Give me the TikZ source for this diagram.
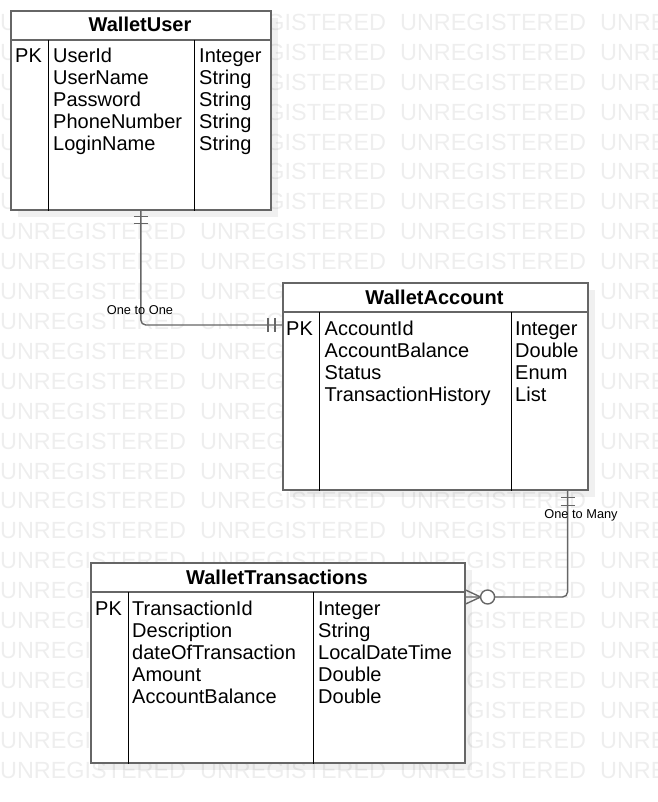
\documentclass[tikz,border=0pt]{standalone}
\usepackage{fontspec}
\setmainfont{Liberation Sans}
\usetikzlibrary{positioning, calc, shadows}

\definecolor{linegray}{RGB}{102,102,102}
\definecolor{markgray}{RGB}{238,238,238}

\tikzset{
  entity/.style={draw=linegray, line width=1.6pt, fill=white, anchor=north west, inner sep=0pt,
    drop shadow={shadow xshift=7pt, shadow yshift=-7pt, fill=black, opacity=0.06}},
  headline/.style={draw=linegray, line width=1.6pt},
  divider/.style={draw=black, line width=0.9pt},
  conn/.style={draw=linegray, line width=1.4pt},
  title/.style={font=\bfseries\fontsize{20}{22}\selectfont, anchor=base, inner sep=0pt},
  field/.style={font=\fontsize{20}{22}\selectfont, anchor=base west, inner sep=0pt},
  rel/.style={font=\fontsize{12.8}{14}\selectfont, anchor=base, inner sep=0pt},
  watermark/.style={font=\fontsize{23.4}{26}\selectfont, text=markgray, anchor=base west, inner sep=0pt},
}

\begin{document}
\begin{tikzpicture}[x=1pt, y=-1pt]
	\useasboundingbox (0,0) rectangle (657,802);
	\clip (0,0) rectangle (657,802);
	
	% background text
	\foreach \r in {0,...,25}
		\foreach \c in {0,...,3}
			\node[watermark] (wm-\r-\c) at (200*\c, 30.5+29.9*\r) {UNREGISTERED};
	
	% entities
	\node[entity, minimum width=260pt, minimum height=199pt] (user) at (10,10) {};
	\node[entity, minimum width=305pt, minimum height=207pt] (account) at (282,282) {};
	\node[entity, minimum width=374pt, minimum height=200pt] (trans) at (90,562) {};
	
	\draw[headline] ([yshift=-30pt]user.north west) -- ([yshift=-30pt]user.north east);
	\draw[divider] ([xshift=38pt,yshift=-30pt]user.north west) -- ([xshift=38pt]user.south west);
	\draw[divider] ([xshift=184pt,yshift=-30pt]user.north west) -- ([xshift=184pt]user.south west);
	
	\draw[headline] ([yshift=-30pt]account.north west) -- ([yshift=-30pt]account.north east);
	\draw[divider] ([xshift=37pt,yshift=-30pt]account.north west) -- ([xshift=37pt]account.south west);
	\draw[divider] ([xshift=229pt,yshift=-30pt]account.north west) -- ([xshift=229pt]account.south west);
	
	\draw[headline] ([yshift=-30pt]trans.north west) -- ([yshift=-30pt]trans.north east);
	\draw[divider] ([xshift=38pt,yshift=-30pt]trans.north west) -- ([xshift=38pt]trans.south west);
	\draw[divider] ([xshift=223pt,yshift=-30pt]trans.north west) -- ([xshift=223pt]trans.south west);
	
	% WalletUser
	\node[title] (user-title) at (140,32) {WalletUser};
	\node[field] (user-pk) at (15,63) {PK};
	\foreach \fname/\ftype [count=\i] in {UserId/Integer, UserName/String, Password/String,
			PhoneNumber/String, LoginName/String} {
		\node[field] (user-n\i) at (53,41+22*\i) {\fname};
		\node[field] (user-t\i) at (199,41+22*\i) {\ftype};
	}
	
	% WalletAccount
	\node[title] (account-title) at (434.5,304) {WalletAccount};
	\node[field] (account-pk) at (286,335) {PK};
	\foreach \fname/\ftype [count=\i] in {AccountId/Integer, AccountBalance/Double, Status/Enum,
			TransactionHistory/List} {
		\node[field] (account-n\i) at (324.5,313+22*\i) {\fname};
		\node[field] (account-t\i) at (515,313+22*\i) {\ftype};
	}
	
	% WalletTransactions
	\node[title] (trans-title) at (277,584) {WalletTransactions};
	\node[field] (trans-pk) at (95,615) {PK};
	\foreach \fname/\ftype [count=\i] in {TransactionId/Integer, Description/String,
			dateOfTransaction/LocalDateTime, Amount/Double, AccountBalance/Double} {
		\node[field] (trans-n\i) at (132,593+22*\i) {\fname};
		\node[field] (trans-t\i) at (318,593+22*\i) {\ftype};
	}
	
	% relations
	\coordinate (acc-in) at ([yshift=-43pt]account.north west);
	\coordinate (acc-out) at ([xshift=-21pt]account.south east);
	\coordinate (tr-in) at ([yshift=-35pt]trans.north east);
	
	\draw[conn, rounded corners=5pt] (user.south) |- (acc-in);
	\draw[conn, rounded corners=5pt] (acc-out) |- (tr-in);
	
	\foreach \d in {6,13}
		\draw[conn] ([shift={(-7,\d)}]user.south) -- +(14,0);
	\foreach \d in {7,14}
		\draw[conn] ([shift={(-\d,-7)}]acc-in) -- +(0,14);
	\foreach \d in {7,15}
		\draw[conn] ([shift={(-7,\d)}]acc-out) -- +(14,0);
	\draw[conn] ([yshift=7pt]tr-in) -- ([xshift=15pt]tr-in) -- ([yshift=-7pt]tr-in);
	\draw[conn, fill=white] ([xshift=22pt]tr-in) circle[radius=7pt];
	
	\node[rel] (one-one) at (140,314) {One to One};
	\node[rel] (one-many) at (581,518.5) {One to Many};
\end{tikzpicture}
\end{document}
